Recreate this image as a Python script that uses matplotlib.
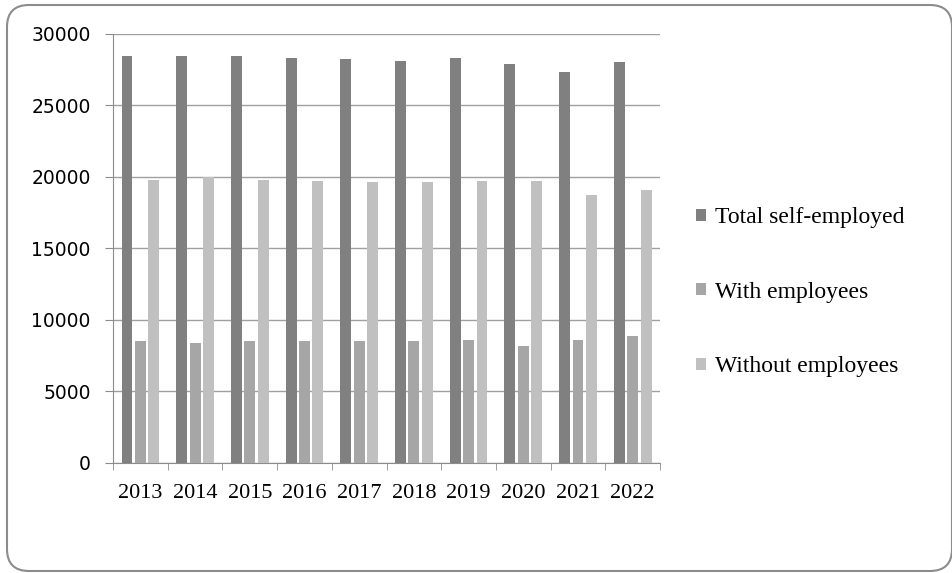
import matplotlib
matplotlib.use("Agg")
import matplotlib.pyplot as plt
import numpy as np
from matplotlib.patches import FancyBboxPatch, Patch
from matplotlib.transforms import IdentityTransform

plt.rcParams["font.family"] = ["Liberation Serif", "DejaVu Serif"]

years = ["2013", "2014", "2015", "2016", "2017", "2018", "2019", "2020", "2021", "2022"]
total = [28400, 28400, 28400, 28300, 28200, 28100, 28300, 27850, 27300, 28000]
with_emp = [8500, 8400, 8500, 8500, 8500, 8500, 8600, 8150, 8600, 8900]
without_emp = [19800, 20000, 19800, 19700, 19600, 19600, 19700, 19700, 18700, 19100]

series = [("Total self-employed", total, "#808080"),
          ("With employees", with_emp, "#a6a6a6"),
          ("Without employees", without_emp, "#c0c0c0")]

fig = plt.figure(figsize=(9.53, 5.73), dpi=100)
# rounded frame round the whole chart, in pixels
fig.patches.append(FancyBboxPatch((7, 2), 945, 566,
                                  boxstyle="round,pad=0,rounding_size=22",
                                  transform=IdentityTransform(), fill=False,
                                  edgecolor="#8c8c8c", lw=1.5, zorder=0))

ax = fig.add_axes([0.1186, 0.192, 0.574, 0.7495])
x = np.arange(len(years))
width, step = 0.2, 0.245
for i, (name, values, colour) in enumerate(series):
    ax.bar(x + (i - 1)*step, values, width, color=colour, label=name, zorder=3)

ax.set_xlim(-0.5, len(years) - 0.5)
ax.set_ylim(0, 30000)
ax.set_yticks(range(0, 30001, 5000))
ax.set_yticklabels([str(v) for v in range(0, 30001, 5000)],
                   family="DejaVu Sans", fontsize=13.5)
ax.set_xticks(x)
ax.set_xticklabels(years, fontsize=16)
ax.set_xticks(np.arange(-0.5, len(years)), minor=True)
ax.tick_params(axis="x", which="major", length=0, pad=15)
ax.tick_params(axis="x", which="minor", length=5, color="#8c8c8c")
ax.tick_params(axis="y", length=6, color="#8c8c8c", pad=10)
ax.grid(axis="y", color="#a0a0a0", lw=1.0, zorder=0)
for side in ("top", "right"):
    ax.spines[side].set_visible(False)
for side in ("left", "bottom"):
    ax.spines[side].set_color("#8c8c8c")

handles = [Patch(facecolor=c, edgecolor="none") for _, _, c in series]
fig.legend(handles, [s[0] for s in series], loc="center left",
           bbox_to_anchor=(0.730, 0.49), frameon=False, fontsize=17,
           borderpad=0, borderaxespad=0,
           handlelength=0.42, handleheight=0.42, handletextpad=0.38,
           labelspacing=2.27)

fig.savefig("out.png", dpi=100)
